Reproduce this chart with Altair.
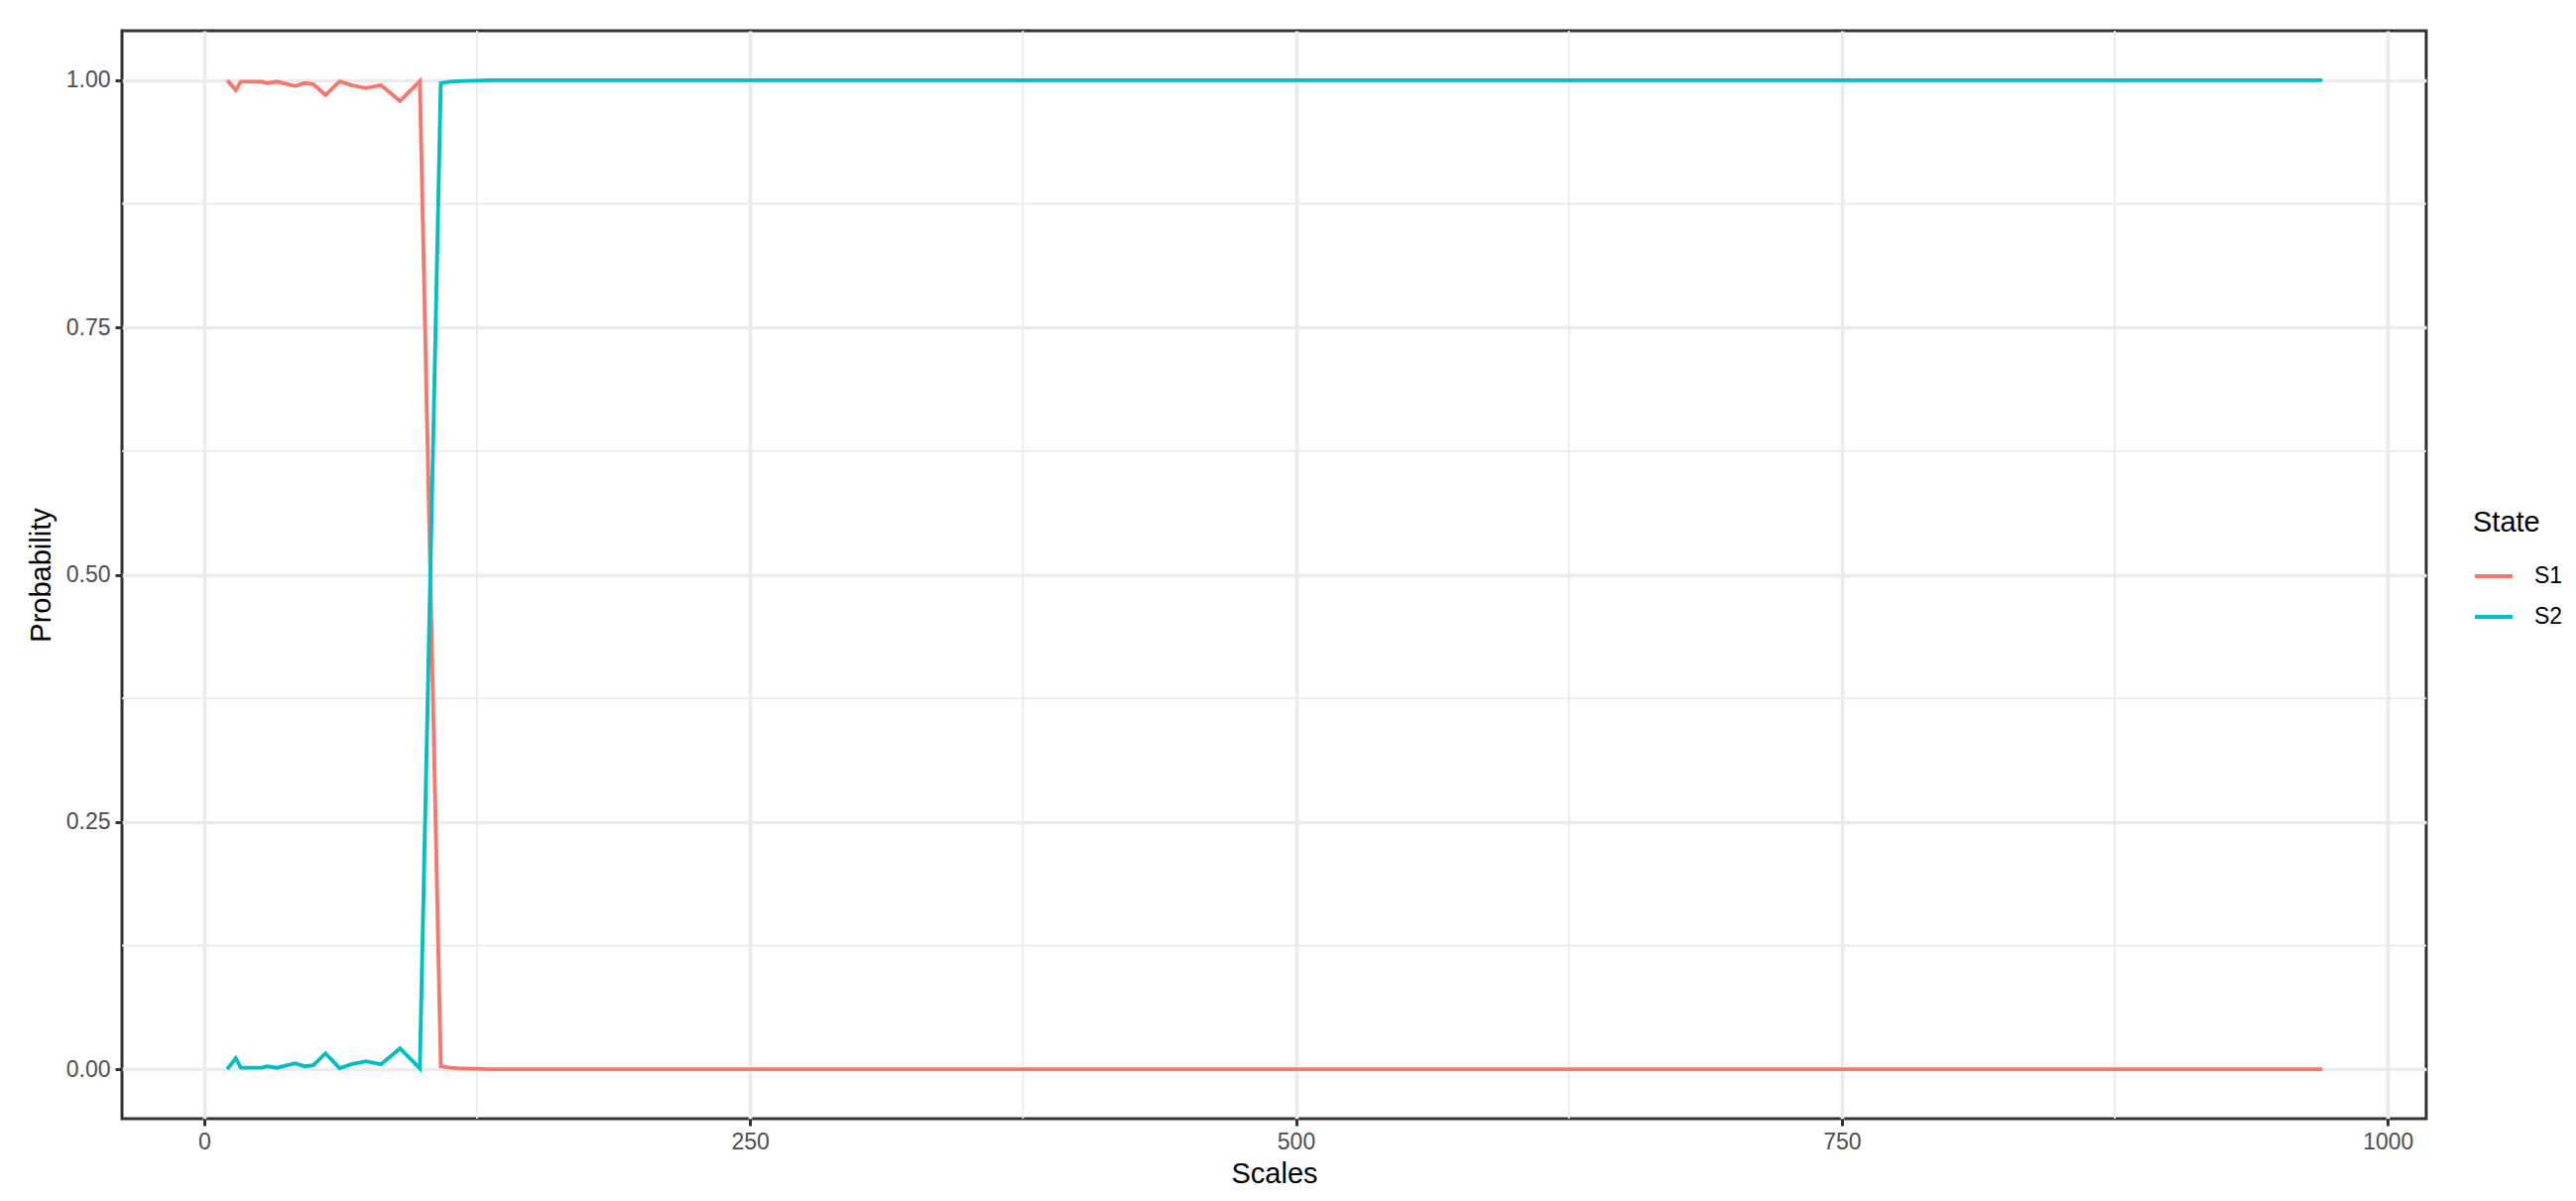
import altair as alt
import pandas as pd

# Data
scales = [10.6, 14.5, 16.8, 26.5, 28.8, 33.3, 41.7, 45.9, 50.0, 55.6, 62.1, 67.4,
          74.2, 81.0, 89.7, 98.8, 108.4, 112.5, 116.5, 131.0, 970.0]
s1 = [1.0, 0.99, 0.9985, 0.9985, 0.997, 0.9985, 0.994, 0.997, 0.996, 0.985, 0.999, 0.995,
      0.992, 0.995, 0.979, 0.999, 0.003, 0.0015, 0.001, 0.0, 0.0]
s2 = [0.0, 0.011, 0.0015, 0.0015, 0.003, 0.0015, 0.006, 0.003, 0.004, 0.016, 0.001, 0.005,
      0.008, 0.005, 0.021, 0.001, 0.997, 0.9985, 0.999, 1.0, 1.0]
states = ["S1", "S2"]
colors = ["#F8766D", "#00BFC4"]

x_ticks = [0, 250, 500, 750, 1000]
y_ticks = [0.0, 0.25, 0.5, 0.75, 1.0]
x_minor = [125, 375, 625, 875]
y_minor = [0.125, 0.375, 0.625, 0.875]

rows = []
for st, vals in zip(states, [s1, s2]):
    for x, v in zip(scales, vals):
        rows.append({"Scales": x, "Probability": v, "State": st})
df = pd.DataFrame(rows)

FONT = "Liberation Sans"
xscale = alt.Scale(domain=[-37.6, 1017.6], nice=False, zero=False)
yscale = alt.Scale(domain=[-0.05, 1.05], nice=False, zero=False)
xaxis = alt.Axis(values=x_ticks, title="Scales", format="d")
yaxis = alt.Axis(values=y_ticks, title="Probability", format=".2f")

minor_x = alt.Chart(pd.DataFrame({"Scales": x_minor})).mark_rule(
    color="#EBEBEB", strokeWidth=1.85
).encode(x=alt.X("Scales:Q", scale=xscale, axis=xaxis))

minor_y = alt.Chart(pd.DataFrame({"Probability": y_minor})).mark_rule(
    color="#EBEBEB", strokeWidth=1.85
).encode(y=alt.Y("Probability:Q", scale=yscale, axis=yaxis))

lines = alt.Chart(df).mark_line(strokeWidth=3.9).encode(
    x=alt.X("Scales:Q", scale=xscale, axis=xaxis),
    y=alt.Y("Probability:Q", scale=yscale, axis=yaxis),
    color=alt.Color("State:N",
                    scale=alt.Scale(domain=states, range=colors),
                    legend=alt.Legend(orient="none", legendX=2370, legendY=482,
                                      title="State", symbolType="stroke",
                                      symbolSize=1444, symbolStrokeWidth=3.9,
                                      labelOffset=20, rowPadding=8,
                                      titlePadding=18, padding=0,
                                      titleFontSize=29, labelFontSize=23,
                                      titleFont=FONT, labelFont=FONT,
                                      titleFontWeight="normal",
                                      titleColor="#000000", labelColor="#000000")),
    order=alt.Order("Scales:Q"),
)

chart = alt.layer(minor_x, minor_y, lines).properties(
    width=2323, height=1097,
    padding={"left": 115, "top": 23, "right": 143, "bottom": 74},
    autosize=alt.AutoSizeParams(type="none"),
    background="white",
).configure_view(
    stroke="#333333", strokeWidth=3, fill="white"
).configure_axis(
    domain=False,
    grid=True, gridColor="#EBEBEB", gridWidth=3.7,
    ticks=True, tickColor="#333333", tickWidth=3, tickSize=7,
    labelFont=FONT, labelFontSize=23, labelColor="#4D4D4D", labelPadding=5,
    titleFont=FONT, titleFontSize=29, titleColor="#000000",
    titleFontWeight="normal",
).configure_axisX(
    titlePadding=6, labelFlush=False
).configure_axisY(
    titlePadding=10, labelFlush=False
)

chart.save("out.html", embed_options={"renderer": "svg", "actions": False})
